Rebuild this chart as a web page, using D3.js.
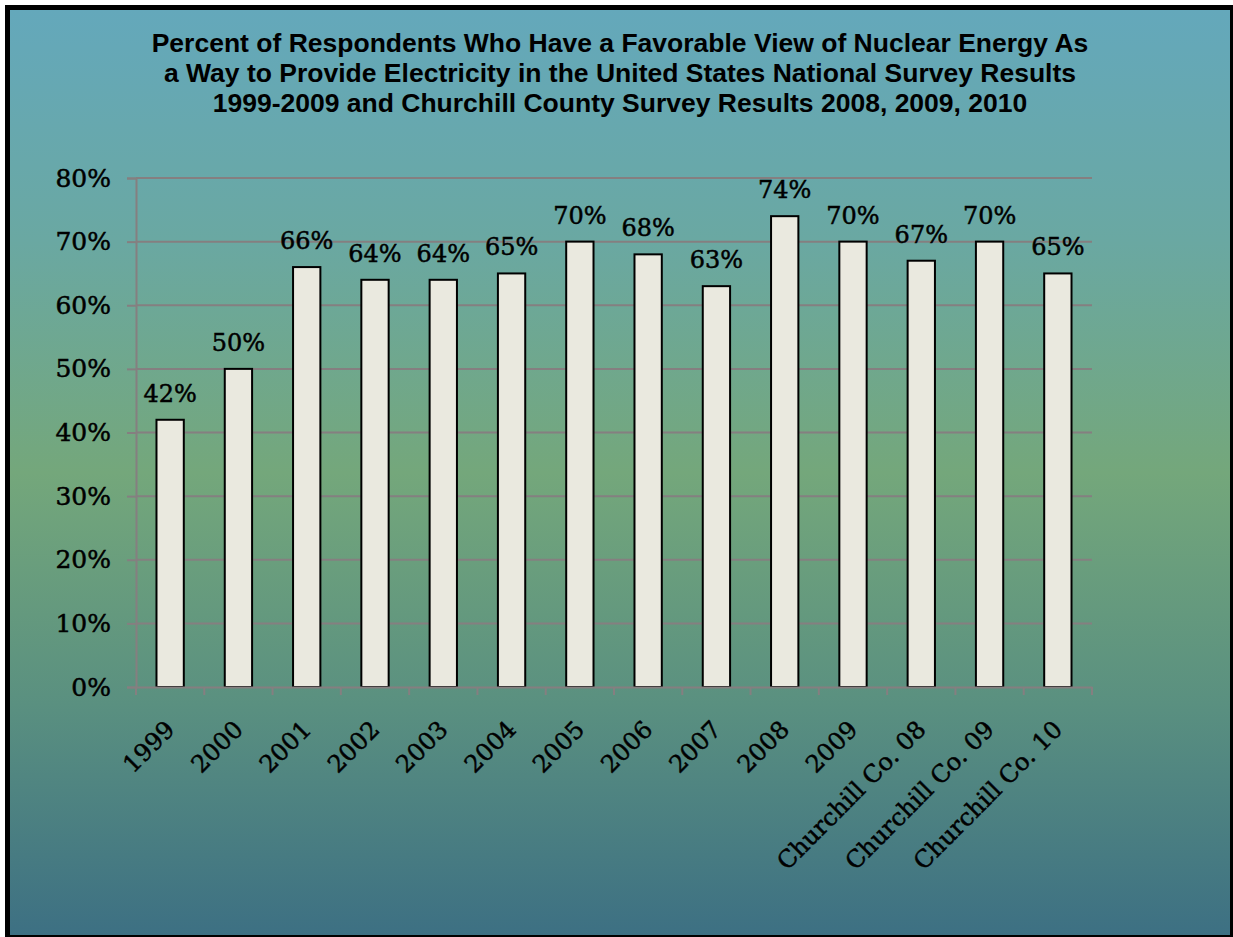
<!DOCTYPE html>
<html><head><meta charset="utf-8">
<script src="https://cdn.jsdelivr.net/npm/d3@7"></script>
<style>html,body{margin:0;padding:0;background:#fff;}svg{display:block;}</style>
</head><body>
<svg id="chart" width="1233" height="937"></svg>
<script>
const categories = ["1999","2000","2001","2002","2003","2004","2005","2006","2007","2008","2009","Churchill Co. 08","Churchill Co. 09","Churchill Co. 10"];
const values = [42,50,66,64,64,65,70,68,63,74,70,67,70,65];
const yTicks = [0,10,20,30,40,50,60,70,80];
const titleLines = [
  "Percent of Respondents Who Have a Favorable View of Nuclear Energy As",
  "a Way to Provide Electricity in the United States National Survey Results",
  "1999-2009 and Churchill County Survey Results 2008, 2009, 2010"
];

const svg = d3.select("#chart");
const defs = svg.append("defs");
const grad = defs.append("linearGradient").attr("id","bg").attr("x1",0).attr("y1",0).attr("x2",0).attr("y2",1);
[[0,"#64a8bb"],[0.25,"#6aa8a2"],[0.5,"#74a77b"],[0.75,"#5a9080"],[1,"#3d7083"]].forEach(s=>grad.append("stop").attr("offset",s[0]).attr("stop-color",s[1]));

svg.append("rect").attr("x",5).attr("y",5).attr("width",1228).attr("height",932).attr("fill","#000");
svg.append("rect").attr("x",10).attr("y",10).attr("width",1220).attr("height",925).attr("fill","url(#bg)");

const pLeft = 136, pRight = 1092, pTop = 178, pBottom = 687;
const x = d3.scaleBand().domain(categories).range([pLeft,pRight]).paddingInner(0.6).paddingOuter(0.3);
const xc = d3.scaleBand().domain(categories).range([pLeft,pRight]);
const y = d3.scaleLinear().domain([0,80]).range([pBottom,pTop]);
const serif = "'DejaVu Serif'";

// gridlines
svg.append("g").selectAll("line").data(yTicks.filter(d=>d>0)).join("line")
  .attr("x1",pLeft).attr("x2",pRight).attr("y1",d=>y(d)).attr("y2",d=>y(d))
  .attr("stroke","#857f80").attr("stroke-width",2);

// y axis
const yAxis = svg.append("g").attr("transform",`translate(${pLeft},0)`)
  .call(d3.axisLeft(y).tickValues(yTicks).tickFormat(d=>d+"%").tickSize(9).tickPadding(16));
yAxis.select(".domain").attr("stroke","#857f80").attr("stroke-width",2);
yAxis.selectAll(".tick line").attr("stroke","#857f80").attr("stroke-width",2);
yAxis.selectAll(".tick text").attr("font-family",serif).attr("font-size",25).attr("fill","#000")
  .attr("stroke","#000").attr("stroke-width",0.5);

// bars
svg.append("g").selectAll("rect").data(values).join("rect")
  .attr("x",(d,i)=>x(categories[i]))
  .attr("y",d=>y(d))
  .attr("width",x.bandwidth())
  .attr("height",d=>pBottom-y(d))
  .attr("fill","#eae9df").attr("stroke","#000").attr("stroke-width",2);

// x axis
const xAxis = svg.append("g").attr("transform",`translate(0,${pBottom})`)
  .call(d3.axisBottom(xc).tickSize(0).tickFormat(""));
xAxis.select(".domain").attr("stroke","#857f80").attr("stroke-width",2);
const edges = categories.map(c=>xc(c)).concat([pRight]);
svg.append("g").selectAll("line").data(edges).join("line")
  .attr("x1",d=>d).attr("x2",d=>d).attr("y1",pBottom).attr("y2",pBottom+8)
  .attr("stroke","#857f80").attr("stroke-width",2);

// x labels
svg.append("g").selectAll("text").data(categories).join("text")
  .attr("transform",d=>`translate(${xc(d)+xc.bandwidth()/2+6},${pBottom+44}) rotate(-45)`)
  .attr("text-anchor","end")
  .attr("font-family",serif).attr("font-size",24).attr("fill","#000")
  .attr("stroke","#000").attr("stroke-width",0.5)
  .text(d=>d);

// data labels
svg.append("g").selectAll("text").data(values).join("text")
  .attr("x",(d,i)=>x(categories[i])+x.bandwidth()/2)
  .attr("y",d=>y(d)-18)
  .attr("text-anchor","middle")
  .attr("font-family",serif).attr("font-size",24).attr("fill","#000")
  .attr("stroke","#000").attr("stroke-width",0.5)
  .text(d=>d+"%");

// title
svg.append("g").selectAll("text").data(titleLines).join("text")
  .attr("x",620).attr("y",(d,i)=>52+i*30)
  .attr("text-anchor","middle")
  .attr("font-family","'Liberation Sans', Arial, sans-serif").attr("font-weight","bold")
  .attr("font-size",26.5).attr("fill","#000")
  .text(d=>d);
</script>
</body></html>
